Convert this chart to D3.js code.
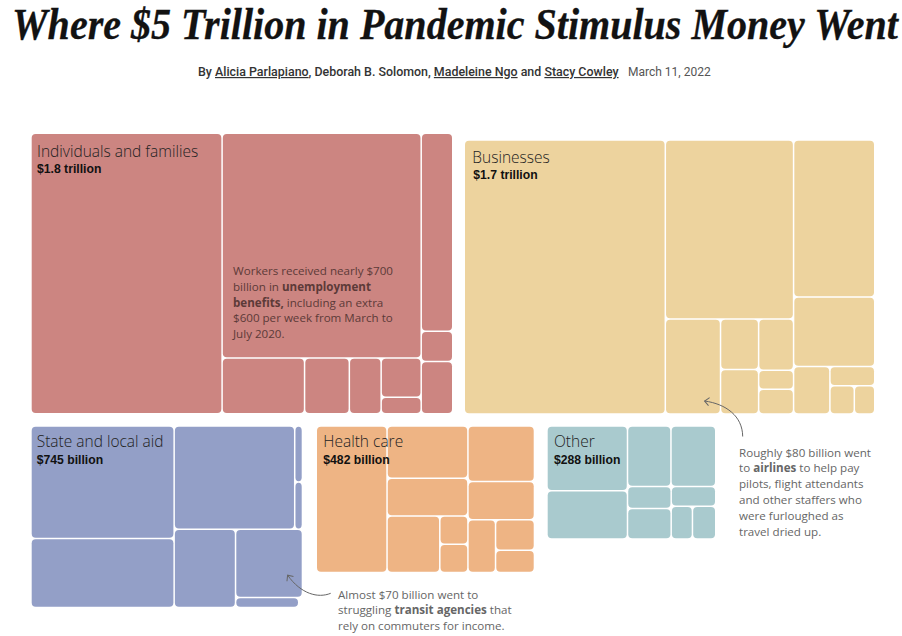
<!DOCTYPE html>
<html><head><meta charset="utf-8">
<script src="https://cdn.jsdelivr.net/npm/d3@7"></script>
<style>
html,body{margin:0;padding:0;background:#fff}
#wrap{position:relative;width:902px;height:636px;overflow:hidden}
svg{display:block}
text{font-family:"Open Sans",sans-serif}
#ttl{position:absolute;left:12px;top:2.6px;height:44px;line-height:44px;white-space:nowrap;transform-origin:0 0;
  font-family:"Liberation Serif",serif;font-weight:700;font-style:italic;font-size:44px;color:#121212;-webkit-text-stroke:0.3px #121212}
.by{font-family:Roboto,sans-serif;font-weight:500;font-size:12px;fill:#333}
.date{font-family:Roboto,sans-serif;font-weight:400;font-size:12px;fill:#555}
.glabel{font-weight:300;font-size:15.5px;fill:#222}
.gtotal{font-family:"Liberation Sans",sans-serif;font-weight:700;font-size:12.2px;fill:#111}
.note{font-family:"Open Sans",sans-serif;font-size:11.6px;fill:#666}
.note.in{fill:#5c3a38}
</style></head><body>
<div id="wrap"><div id="ttl"></div><svg id="c" width="902" height="636"></svg></div>
<script>
// Values in $ billions. Nesting alternates column / row splits.
const individualsValues=[815,[680,[70,38,27,[24,10]]],[95,14.5,25]];
const businessesValues=[830,[346,[79,[29,25.5],[27,10,13]]],[192,85,[26,[13,[10.4,8.7]]]]];
const stateValues=[[242,148],[[187,[6.5,5.5]],[72,[68.5,[9.4,0.55]]]]];
const healthValues=[157,[64,46.4,[45,[12,12]]],[56,38.5,[22,[18,13]]]];
const otherValues=[[78.5,58.5],[[39.5,40.7],[[14.6,20],[13.3,[10.5,11.5]]]]];

const groupNames=["Individuals and families","Businesses","State and local aid","Health care","Other"];
const groupTotals=["$1.8 trillion","$1.7 trillion","$745 billion","$482 billion","$288 billion"];
const groupColors=["#cc8581","#edd39e","#939fc7","#eeb484","#a9cace"];
const groupValues=[individualsValues,businessesValues,stateValues,healthValues,otherValues];
// box: x, y, width, height of each treemap on the page
const groupBoxes=[[31.7,134,420.3,279],[465,140.7,409,272.6],[31.7,426.7,270,180],[317,426.7,216.7,145],[547.7,426.7,167.3,111.6]];
// label offsets inside each box: x, label baseline, total baseline
const labelOffsets=[[5.3,22.7,38.5],[7.3,22.6,38.5],[5,20,37.6],[6.3,20,37.6],[6.3,20.5,37.5]];
const minDrawn=1; // cells under $1 billion are not drawn

const svg=d3.select("#c");
const toTree=v=>Array.isArray(v)?{children:v.map(toTree)}:{value:v};

groupValues.forEach((vals,i)=>{
  const [bx,by,bw,bh]=groupBoxes[i];
  const [lx,ly,ty]=labelOffsets[i];
  const root=d3.hierarchy(toTree(vals)).sum(d=>d.value||0);
  d3.treemap().tile(d3.treemapSliceDice).size([bw,bh]).paddingInner(1.5)(root);
  const g=svg.append("g").attr("transform",`translate(${bx},${by})`);
  g.selectAll("rect").data(root.leaves().filter(d=>d.value>=minDrawn)).join("rect")
    .attr("x",d=>d.x0).attr("y",d=>d.y0)
    .attr("width",d=>d.x1-d.x0).attr("height",d=>d.y1-d.y0)
    .attr("rx",4).attr("fill",groupColors[i]);
  g.append("text").attr("class","glabel").attr("x",lx).attr("y",ly).text(groupNames[i]);
  g.append("text").attr("class","gtotal").attr("x",lx+(i===1?1:0)).attr("y",ty).text(groupTotals[i]);
});

// Headline: scaled horizontally to the reference's measure
const ttl=d3.select("#ttl").text("Where $5 Trillion in Pandemic Stimulus Money Went");
const natural=ttl.node().getBoundingClientRect().width;
ttl.style("transform",`scaleX(${886/natural})`);

const bylineParts=[["By ",0],["Alicia Parlapiano",1],[", Deborah B. Solomon, ",0],["Madeleine Ngo",1],[" and ",0],["Stacy Cowley",1]];
const by=svg.append("text").attr("class","by").style("white-space","pre");
bylineParts.forEach(([t,u])=>by.append("tspan").attr("text-decoration",u?"underline":null).text(t));
const byNatural=by.node().getComputedTextLength();
by.attr("transform",`translate(198,76) scale(${421/byNatural},1)`);
svg.append("text").attr("class","date").attr("x",628).attr("y",76).text("March 11, 2022");

// Annotations: arrays of line segments, [text, bold]
const notes=[
 {x:233,y:275,cls:"note in",lines:[[["Workers received nearly $700",0]],[["billion in ",0],["unemployment",1]],[["benefits,",1],[" including an extra",0]],[["$600 per week from March to",0]],[["July 2020.",0]]]},
 {x:739,y:456.5,cls:"note",lines:[[["Roughly $80 billion went",0]],[["to ",0],["airlines",1],[" to help pay",0]],[["pilots, flight attendants",0]],[["and other staffers who",0]],[["were furloughed as",0]],[["travel dried up.",0]]]},
 {x:338,y:598.5,cls:"note",lines:[[["Almost $70 billion went to",0]],[["struggling ",0],["transit agencies",1],[" that",0]],[["rely on commuters for income.",0]]]}
];
notes.forEach(n=>{
  const t=svg.append("text").attr("class",n.cls).style("white-space","pre");
  n.lines.forEach((line,k)=>{
    line.forEach(([s,b],j)=>{
      const ts=t.append("tspan").text(s).attr("font-weight",b?700:400);
      if(j===0) ts.attr("x",n.x).attr("y",n.y+k*15.8);
    });
  });
});

// Leader arrows
svg.append("defs").append("marker").attr("id","ah").attr("viewBox","-6 -5 8 10").attr("refX",0).attr("refY",0)
  .attr("markerWidth",8).attr("markerHeight",10).attr("markerUnits","userSpaceOnUse").attr("orient","auto")
  .append("path").attr("d","M-4.5,-4L0,0L-4.5,4").attr("fill","none").attr("stroke","#666").attr("stroke-width",1);
const arrows=["M742.7,436.5C742.5,416 726,404 704.6,401","M330.7,593.3C318,598.5 301,594 287.6,575.2"];
svg.selectAll("path.lead").data(arrows).join("path").attr("class","lead").attr("d",d=>d)
  .attr("fill","none").attr("stroke","#666").attr("stroke-width",1).attr("marker-end","url(#ah)");
</script></body></html>
